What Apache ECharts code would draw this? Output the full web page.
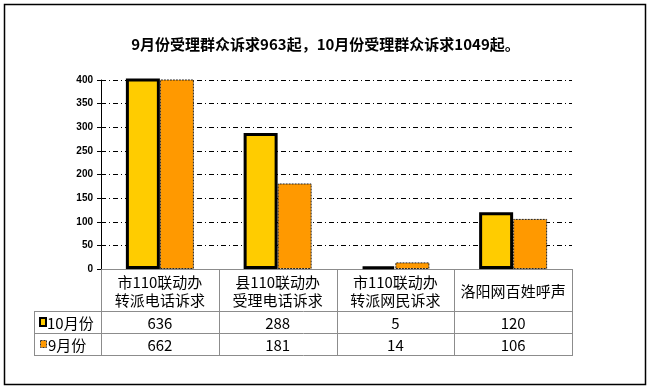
<!DOCTYPE html>
<html>
<head>
<meta charset="utf-8">
<script src="https://cdn.jsdelivr.net/npm/echarts@6/dist/echarts.min.js"></script>
<style>
html,body{margin:0;padding:0;background:#fff;}
#c{width:651px;height:390px;}
</style>
</head>
<body>
<div id="c"></div>
<script>
const titleText = '9月份受理群众诉求963起，10月份受理群众诉求1049起。';
const categories = ['市110联动办\n转派电话诉求', '县110联动办\n受理电话诉求', '市110联动办\n转派网民诉求', '洛阳网百姓呼声'];
const seriesNames = ['10月份', '9月份'];
const octValues = [636, 288, 5, 120];
const sepValues = [662, 181, 14, 106];
const yMin = 0, yMax = 400, yStep = 50;

const colors = ['#FFCC00', '#FF9900'];
const CJK = '"Noto Sans CJK SC", "Noto Sans", sans-serif';

// layout
const gl = 101, gr = 572, gTop = 80, gBottom = 269;
const rowLines = [311, 333, 355];
const tableLeft = 34;
const cw = (gr - gl) / categories.length;

const chart = echarts.init(document.getElementById('c'), null, {renderer: 'canvas'});

const graphics = [];
// outer border
graphics.push({type: 'rect', shape: {x: 4.5, y: 4.5, width: 641, height: 380}, style: {fill: null, stroke: '#000', lineWidth: 1.5}, z: 100});
const gray = '#8c8c8c';
// vertical table lines
for (let i = 0; i <= categories.length; i++) {
  const x = Math.round(gl + i * cw) + 0.5;
  graphics.push({type: 'line', shape: {x1: x, y1: gBottom, x2: x, y2: rowLines[2]}, style: {stroke: gray, lineWidth: 1}, z: 100});
}
graphics.push({type: 'line', shape: {x1: tableLeft + 0.5, y1: rowLines[0], x2: tableLeft + 0.5, y2: rowLines[2]}, style: {stroke: gray, lineWidth: 1}, z: 100});
rowLines.forEach(y => {
  graphics.push({type: 'line', shape: {x1: tableLeft, y1: y + 0.5, x2: gr + 1, y2: y + 0.5}, style: {stroke: gray, lineWidth: 1}, z: 100});
});
// header texts
categories.forEach((c, i) => {
  graphics.push({type: 'text', x: gl + (i + 0.5) * cw, y: (gBottom + rowLines[0]) / 2 + 1,
    style: {text: c, fill: '#000', font: '15px ' + CJK, align: 'center', verticalAlign: 'middle', lineHeight: 18}, z: 101});
});
// rows
const rows = [octValues, sepValues];
const rowMid = [(rowLines[0] + rowLines[1]) / 2, (rowLines[1] + rowLines[2]) / 2];
rows.forEach((vals, r) => {
  vals.forEach((v, i) => {
    graphics.push({type: 'text', x: gl + (i + 0.5) * cw, y: rowMid[r] + 1,
      style: {text: String(v), fill: '#000', font: '15px ' + CJK, align: 'center', verticalAlign: 'middle'}, z: 101});
  });
});
// legend keys in table
graphics.push({type: 'rect', shape: {x: 40, y: 318, width: 6, height: 8}, style: {fill: colors[0], stroke: '#000', lineWidth: 2}, z: 101});
graphics.push({type: 'rect', shape: {x: 40.5, y: 340.5, width: 6, height: 7}, style: {fill: colors[1], stroke: '#333', lineWidth: 1, lineDash: [2, 1]}, z: 101});
graphics.push({type: 'text', x: 47, y: rowMid[0] + 1, style: {text: seriesNames[0], fill: '#000', font: '15px ' + CJK, align: 'left', verticalAlign: 'middle'}, z: 101});
graphics.push({type: 'text', x: 48, y: rowMid[1] + 1, style: {text: seriesNames[1], fill: '#000', font: '15px ' + CJK, align: 'left', verticalAlign: 'middle'}, z: 101});

chart.setOption({
  animation: false,
  backgroundColor: '#fff',
  title: {
    text: titleText, left: 'center', top: 32,
    textStyle: {fontSize: 15, fontWeight: 'bold', color: '#000', fontFamily: CJK}
  },
  grid: {left: gl, right: 651 - gr, top: gTop, bottom: 390 - gBottom, containLabel: false},
  xAxis: {
    type: 'category', data: categories,
    axisLine: {show: true, lineStyle: {color: gray, width: 1}},
    axisTick: {show: false},
    axisLabel: {show: false},
    splitLine: {show: false}
  },
  yAxis: {
    type: 'value', min: yMin, max: yMax, interval: yStep,
    axisLine: {show: true, lineStyle: {color: '#000', width: 1}},
    axisTick: {show: true, length: 4, lineStyle: {color: '#000'}},
    axisLabel: {margin: 8, color: '#000', fontSize: 10, fontWeight: 'bold', fontFamily: '"Liberation Sans", Arial, sans-serif'},
    splitLine: {show: true, lineStyle: {color: '#000', width: 1, type: [5, 3, 1, 3]}}
  },
  series: [
    {name: seriesNames[0], type: 'bar', data: octValues, barWidth: 34, barGap: '0%',
      itemStyle: {color: colors[0], borderColor: '#000', borderWidth: 3}},
    {name: seriesNames[1], type: 'bar', data: sepValues, barWidth: 34, barGap: '0%',
      itemStyle: {color: colors[1], borderColor: '#222', borderWidth: 1, borderType: [2, 1]}}
  ],
  graphic: graphics
});
</script>
</body>
</html>
